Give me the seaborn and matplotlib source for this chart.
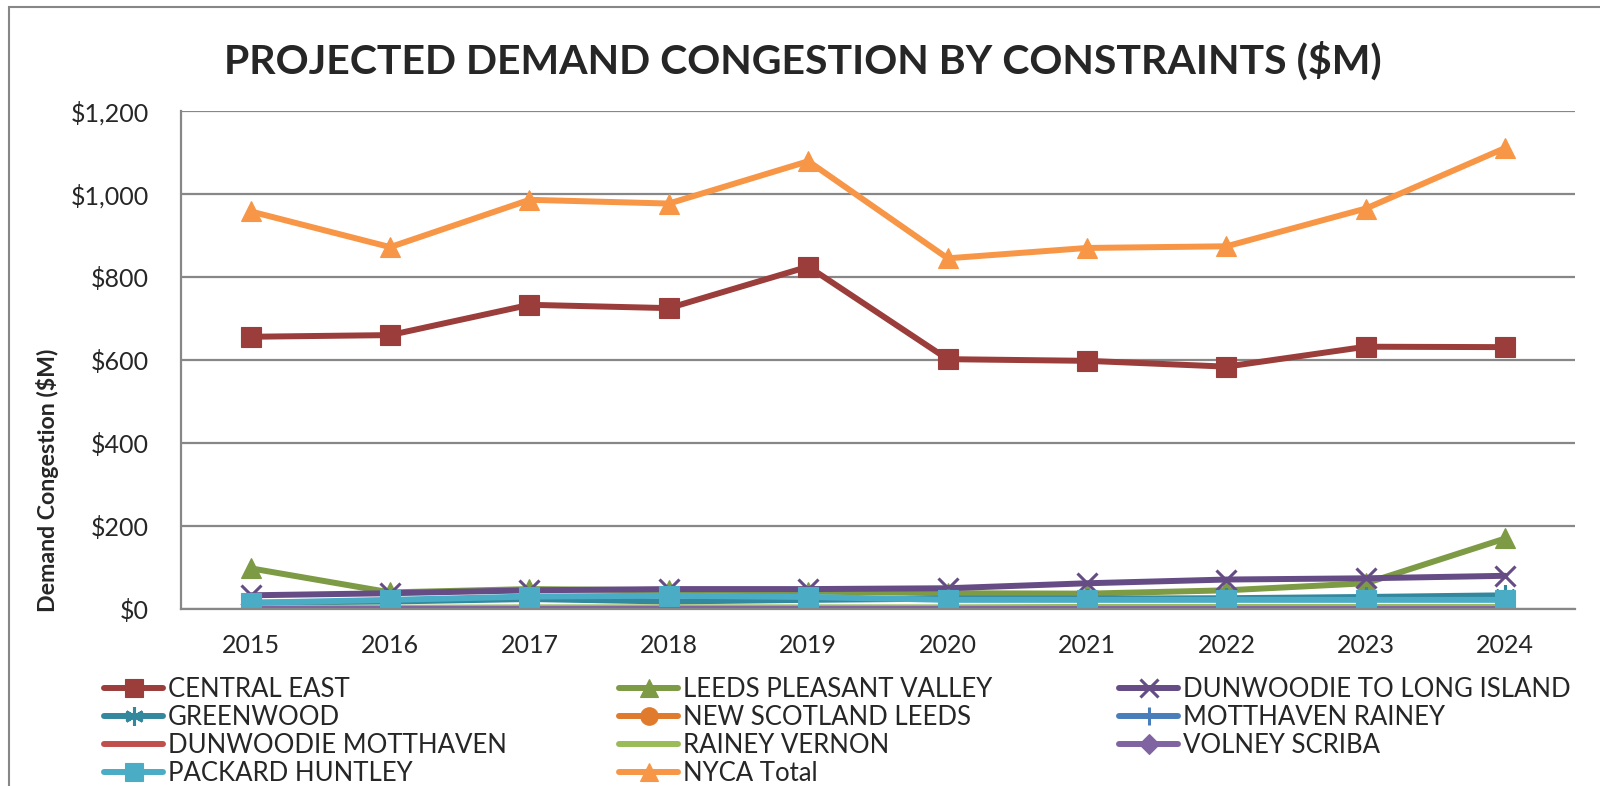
import pandas as pd
import matplotlib
matplotlib.use("Agg")
import matplotlib.pyplot as plt
import seaborn as sns
from matplotlib.patches import Rectangle
from matplotlib.ticker import FuncFormatter, MultipleLocator

# 数据
years = [2015, 2016, 2017, 2018, 2019, 2020, 2021, 2022, 2023, 2024]
central_east = [656, 660, 733, 725, 825, 602, 598, 584, 632, 631]
leeds_pleasant_valley = [98, 40, 48, 45, 42, 38, 37, 45, 62, 170]
dunwoodie_long_island = [33, 38, 45, 48, 48, 50, 62, 71, 74, 80]
greenwood = [15, 18, 24, 18, 22, 25, 25, 26, 29, 33]
new_scotland_leeds = [2, 1, 1, 1, 1, 1, 1, 1, 1, 1]
motthaven_rainey = [0, 0, 0, 0, 0, 0, 0, 0, 0, 0]
dunwoodie_motthaven = [0, 0, 0, 0, 0, 0, 0, 0, 0, 0]
rainey_vernon = [3, 3, 4, 4, 4, 4, 5, 5, 5, 5]
volney_scriba = [0, 0, 0, 0, 0, 0, 0, 0, 0, 0]
packard_huntley = [15, 22, 30, 32, 29, 22, 22, 22, 22, 22]
nyca_total = [958, 872, 986, 977, 1079, 845, 870, 874, 965, 1111]

# 图例三列
legend_columns = [
    ["CENTRAL EAST", "GREENWOOD", "DUNWOODIE MOTTHAVEN", "PACKARD HUNTLEY"],
    ["LEEDS PLEASANT VALLEY", "NEW SCOTLAND LEEDS", "RAINEY VERNON", "NYCA Total"],
    ["DUNWOODIE TO LONG ISLAND", "MOTTHAVEN RAINEY", "VOLNEY SCRIBA"],
]
draw_order = ["CENTRAL EAST", "LEEDS PLEASANT VALLEY", "DUNWOODIE TO LONG ISLAND", "GREENWOOD",
              "NEW SCOTLAND LEEDS", "MOTTHAVEN RAINEY", "DUNWOODIE MOTTHAVEN", "RAINEY VERNON",
              "VOLNEY SCRIBA", "PACKARD HUNTLEY", "NYCA Total"]
values = {
    "CENTRAL EAST": central_east,
    "LEEDS PLEASANT VALLEY": leeds_pleasant_valley,
    "DUNWOODIE TO LONG ISLAND": dunwoodie_long_island,
    "GREENWOOD": greenwood,
    "NEW SCOTLAND LEEDS": new_scotland_leeds,
    "MOTTHAVEN RAINEY": motthaven_rainey,
    "DUNWOODIE MOTTHAVEN": dunwoodie_motthaven,
    "RAINEY VERNON": rainey_vernon,
    "VOLNEY SCRIBA": volney_scriba,
    "PACKARD HUNTLEY": packard_huntley,
    "NYCA Total": nyca_total,
}

# 样式: 颜色, 标记, 大小
styles = {
    "CENTRAL EAST": ("#9B3D3A", "s", 14),
    "LEEDS PLEASANT VALLEY": ("#7D9A45", "^", 14),
    "DUNWOODIE TO LONG ISLAND": ("#664C85", "x", 14),
    "GREENWOOD": ("#33889E", (6, 2, 0), 15),
    "NEW SCOTLAND LEEDS": ("#E07A2C", "o", 14),
    "MOTTHAVEN RAINEY": ("#4A7EBB", "+", 15),
    "DUNWOODIE MOTTHAVEN": ("#C0504D", "_", 14),
    "RAINEY VERNON": ("#9BBB59", "_", 14),
    "VOLNEY SCRIBA": ("#8064A2", "D", 11),
    "PACKARD HUNTLEY": ("#4BACC6", "s", 14),
    "NYCA Total": ("#F79646", "^", 14),
}

sns.set_style("white")
plt.rcParams['font.family'] = ['Lato', 'DejaVu Sans']

fig = plt.figure(figsize=(16, 7.86), dpi=100)
ax = fig.add_axes([181 / 1600, 1 - 609 / 786, (1575 - 181) / 1600, (609 - 111) / 786])

for name in draw_order:
    color, marker, ms = styles[name]
    df = pd.DataFrame({"year": years, "value": values[name]})
    thin = marker in ("x", "+", (6, 2, 0))
    sns.lineplot(data=df, x="year", y="value", ax=ax, color=color, marker=marker,
                 markersize=ms, markeredgecolor=color, markeredgewidth=2.2 if thin else 0.8,
                 linewidth=4.3, label=name, legend=False)

ax.set_xlim(2014.5, 2024.5)
ax.set_ylim(0, 1200)
ax.yaxis.set_major_locator(MultipleLocator(200))
ax.yaxis.set_major_formatter(FuncFormatter(lambda v, p: f"${v:,.0f}"))
ax.set_xticks(years)
ax.set_xticklabels([str(y) for y in years])
ax.grid(axis="y", color="#878787", linewidth=1.6)
ax.set_axisbelow(True)
ax.tick_params(axis="y", length=0, pad=23, labelsize=18)
ax.tick_params(axis="x", length=0, pad=18, labelsize=18)
for side in ("top", "right"):
    ax.spines[side].set_visible(False)
for side in ("left", "bottom"):
    ax.spines[side].set_color("#878787")
    ax.spines[side].set_linewidth(1.6)
ax.set_xlabel("")
ax.set_ylabel("")

fig.text(803 / 1600, 1 - 61 / 786, "PROJECTED DEMAND CONGESTION BY CONSTRAINTS ($M)",
         ha="center", va="center", fontsize=29.5, fontweight="bold")
fig.text(48 / 1600, 1 - 480 / 786, "Demand Congestion ($M)", rotation=90,
         ha="center", va="center", fontsize=16.7, fontweight="bold")

# 图例
handles, labels = ax.get_legend_handles_labels()
lookup = dict(zip(labels, handles))
col_x = [104, 619, 1119]
for names, x0 in zip(legend_columns, col_x):
    fig.legend([lookup[n] for n in names], names, ncol=1,
               loc="upper left", bbox_to_anchor=(x0 / 1600, 1 - 677 / 786),
               frameon=False, fontsize=18.5, handlelength=2.3, handletextpad=0.18,
               labelspacing=0.12, borderaxespad=0, borderpad=0, markerscale=0.9)

# 外框
fig.patches.append(Rectangle((9 / 1600, -0.1), 1.2, 1 - 7 / 786 + 0.1, transform=fig.transFigure,
                             fill=False, edgecolor="#878787", linewidth=1.5))

fig.savefig("out.png", dpi=100)
